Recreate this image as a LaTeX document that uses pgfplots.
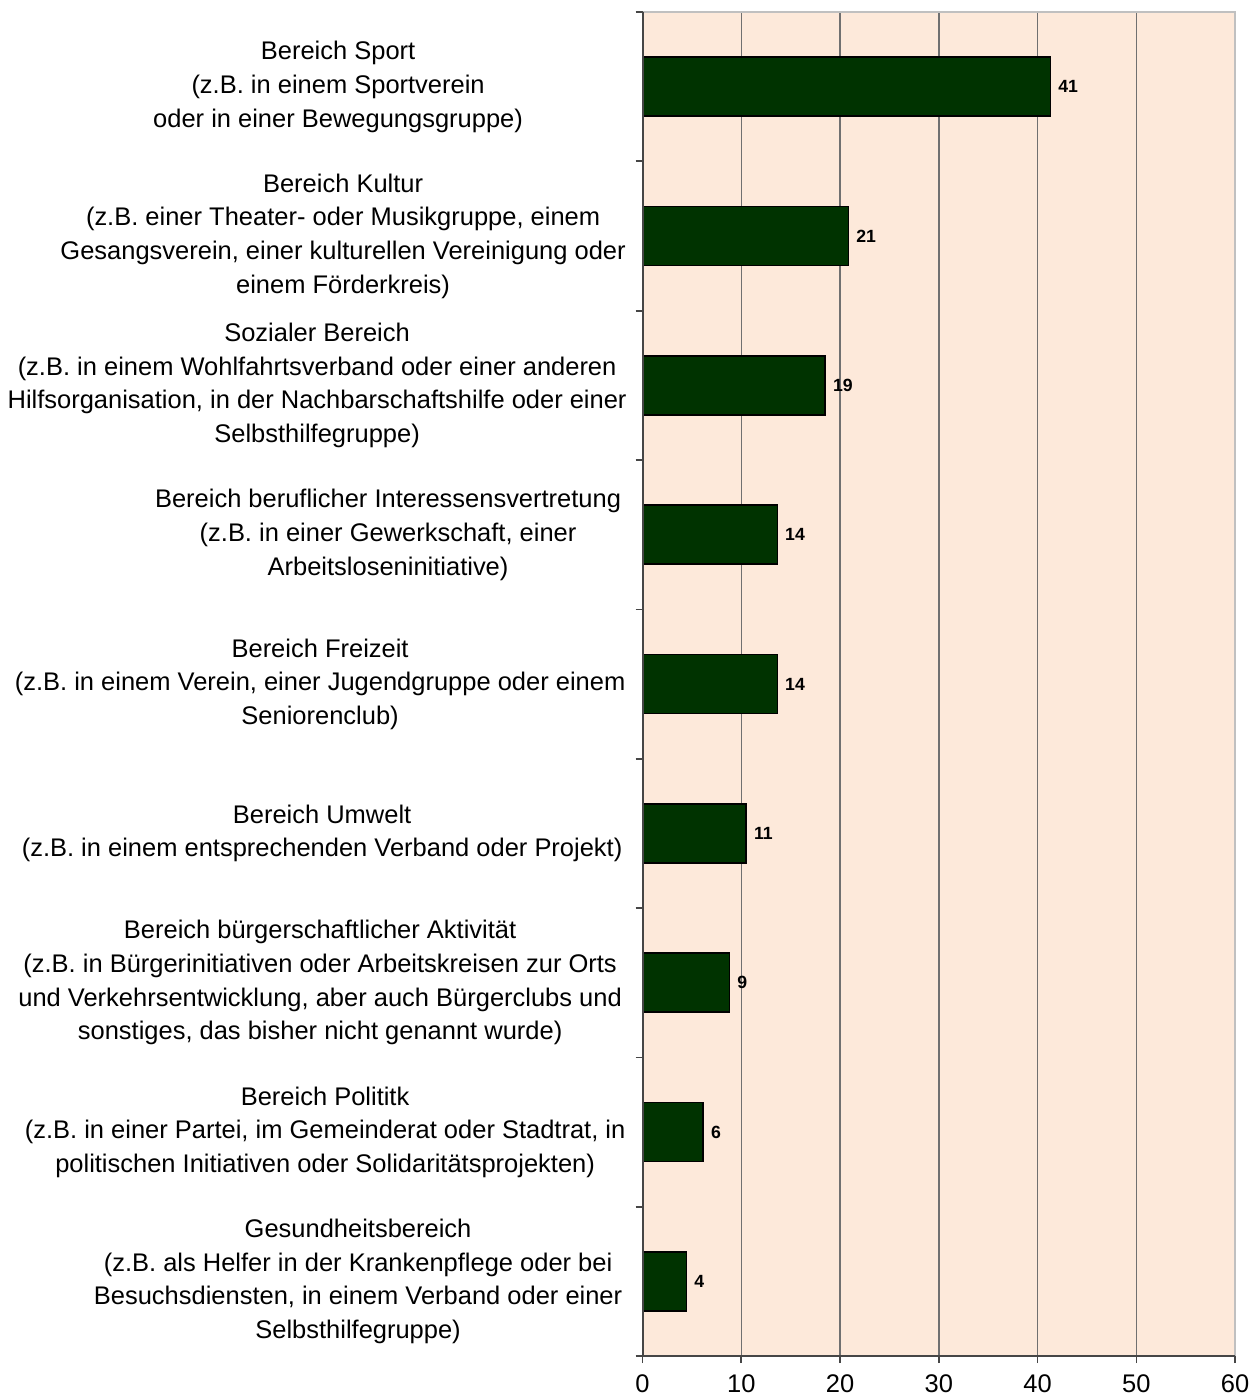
\documentclass[border=0pt]{standalone}
\usepackage{pgfplots}
\pgfplotsset{compat=1.18}
\usepackage{fontspec}
\setmainfont{Liberation Sans}
\definecolor{bg}{RGB}{253,233,218}
\definecolor{barc}{RGB}{0,51,0}
\definecolor{gridc}{RGB}{112,112,112}
\definecolor{axisc}{RGB}{70,70,70}
\definecolor{framec}{RGB}{192,192,192}
\newcommand{\lab}[2]{\makebox[187.8pt][c]{\hspace*{#1}\begin{tabular}{@{}c@{}}#2\end{tabular}\hspace*{-#1}}}
\begin{document}
\begin{tikzpicture}
\begin{axis}[
  scale only axis, width=177.9pt, height=403.5pt,
  xbar, bar width=17.7pt, bar shift=0pt,
  xmin=0, xmax=60, ymin=0.5, ymax=9.5, y dir=reverse,
  axis background/.style={fill=bg},
  axis line style={draw=none},
  font=\fontsize{7.65}{10.1}\selectfont,
  xtick={0,10,...,60}, xtick pos=bottom, tick align=outside,
  x tick style={axisc, line width=0.5pt}, major tick length=2.1pt,
  /pgf/number format/assume math mode=true,
  xticklabel style={inner sep=0pt, anchor=north, yshift=-3.4pt},
  extra x ticks={10,20,30,40,50}, extra x tick labels={},
  extra x tick style={grid=major, major tick length=0pt, grid style={gridc, line width=0.4pt}},
  ytick={1,...,9}, ytick pos=left, y tick style={draw=none},
  yticklabel style={anchor=east, inner sep=0pt, xshift=2.4pt},
  yticklabels={
    {\lab{2.4pt}{Bereich Sport\\(z.B. in einem Sportverein\\oder in einer Bewegungsgruppe)}},
    {\lab{3.9pt}{Bereich Kultur\\(z.B. einer Theater- oder Musikgruppe, einem\\Gesangsverein, einer kulturellen Vereinigung oder\\einem Förderkreis)}},
    {\lab{-3.9pt}{Sozialer Bereich\\(z.B. in einem Wohlfahrtsverband oder einer anderen\\Hilfsorganisation, in der Nachbarschaftshilfe oder einer\\Selbsthilfegruppe)}},
    {\lab{17.4pt}{Bereich beruflicher Interessensvertretung\\(z.B. in einer Gewerkschaft, einer\\Arbeitsloseninitiative)}},
    {\lab{-3pt}{Bereich Freizeit\\(z.B. in einem Verein, einer Jugendgruppe oder einem\\Seniorenclub)}},
    {\lab{-2.4pt}{Bereich Umwelt\\(z.B. in einem entsprechenden Verband oder Projekt)}},
    {\lab{-3pt}{Bereich bürgerschaftlicher Aktivität\\(z.B. in Bürgerinitiativen oder Arbeitskreisen zur Orts\\und Verkehrsentwicklung, aber auch Bürgerclubs und\\sonstiges, das bisher nicht genannt wurde)}},
    {\lab{-1.5pt}{Bereich Polititk\\(z.B. in einer Partei, im Gemeinderat oder Stadtrat, in\\politischen Initiativen oder Solidaritätsprojekten)}},
    {\lab{8.4pt}{Gesundheitsbereich\\(z.B. als Helfer in der Krankenpflege oder bei\\Besuchsdiensten, in einem Verband oder einer\\Selbsthilfegruppe)}}
  },
  extra y ticks={0.5,1.5,...,9.5}, extra y tick labels={},
  extra y tick style={y tick style={draw=axisc, line width=0.5pt}, major tick length=2.1pt, grid=none},
  nodes near coords, point meta=explicit symbolic,
  nodes near coords style={font=\bfseries\fontsize{5.3}{6}\selectfont, anchor=west, inner sep=0pt, xshift=2.1pt},
  clip=false,
]
\addplot[fill=barc, draw=black, line width=0.5pt] coordinates {
  (41.3,1) [41]
  (20.85,2) [21]
  (18.5,3) [19]
  (13.65,4) [14]
  (13.65,5) [14]
  (10.5,6) [11]
  (8.8,7) [9]
  (6.15,8) [6]
  (4.45,9) [4]
};
\draw[framec, line width=0.6pt] (axis description cs:0,1) -- (axis description cs:1,1) -- (axis description cs:1,0);
\draw[axisc, line width=0.6pt] (axis description cs:0,1) -- (axis description cs:0,0) -- (axis description cs:1,0);
\end{axis}
\path ([shift={(-192.9pt,-12pt)}]current axis.south west) rectangle ([shift={(3.6pt,3.6pt)}]current axis.north east);
\end{tikzpicture}
\end{document}
